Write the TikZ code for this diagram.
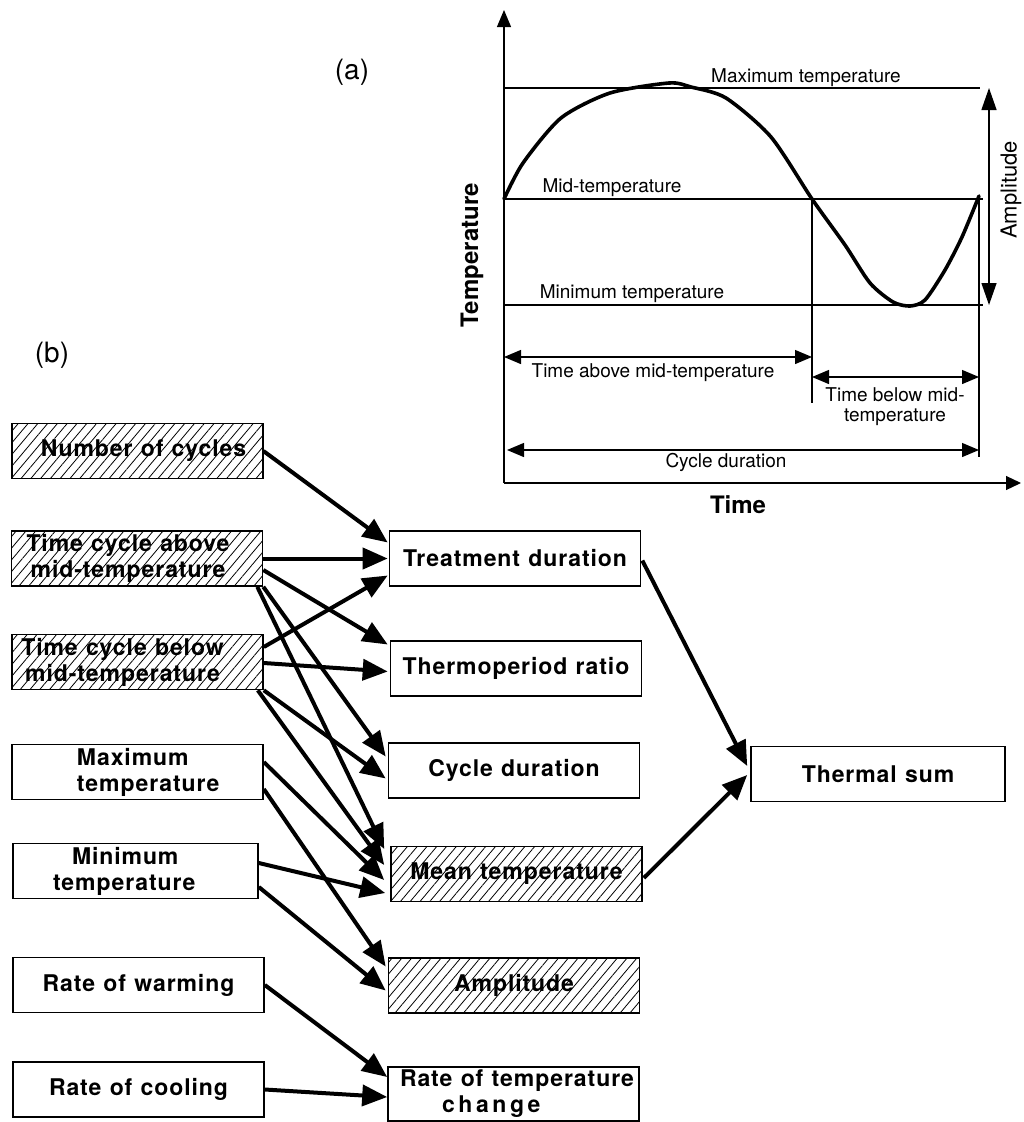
\documentclass[tikz,border=0pt]{standalone}
\usepackage{fontspec}
\setmainfont{TeX Gyre Heros}
\newfontfamily\bxfont{TeX Gyre Heros}[LetterSpace=4.0]
\usetikzlibrary{arrows.meta,patterns.meta,calc}
\newcommand{\ws}{\hspace{0.36em}}
\begin{document}
\begin{tikzpicture}[x=1pt,y=-1pt,
  box/.style={draw,line width=1.6pt,minimum width=251pt,minimum height=55pt,inner sep=0pt,
    font=\bxfont\bfseries\fontsize{23}{26}\selectfont,align=center},
  hatch/.style={box,pattern={Lines[angle=50,distance=7.5pt,line width=0.8pt]}},
  conn/.style={line width=4pt,-{Triangle[length=25pt,width=21pt]}},
  axisline/.style={line width=1.2pt},
  dimarrow/.style={line width=1.3pt,{Triangle[length=17pt,width=14pt]}-{Triangle[length=17pt,width=14pt]}},
  lab/.style={font=\fontsize{19}{21}\selectfont,inner sep=0pt},
  boldlab/.style={font=\bfseries\fontsize{24}{26}\selectfont,inner sep=0pt},
]
\useasboundingbox (0,0) rectangle (1023,1122);
\fill[white] (0,0) rectangle (1023,1122);

% ---------------- (a) graph ----------------
\node[font=\fontsize{28}{30}\selectfont,inner sep=0pt] (la) at (352,72) {(a)};
\draw[axisline,-{Triangle[length=17pt,width=14pt]}] (504,483) -- (504,10);
\draw[axisline,-{Triangle[length=15pt,width=14pt]}] (504,483) -- (1021,483);
\draw[axisline] (504,88) -- (980,88);
\draw[axisline] (504,199) -- (983,199);
\draw[axisline] (504,305) -- (983,305);
\draw[axisline] (812,199) -- (812,403);
\draw[axisline] (979,196) -- (979,457);
\draw[line width=3.6pt,line join=round,line cap=round]
  plot[smooth,tension=0.45] coordinates {(504,199) (523,163) (561,118) (610,93) (669,83) (691,87) (726,98) (771,137) (812,199) (845,245) (870,283) (893,302) (910,306) (925,300) (945,270) (962,237) (979,196)};
\draw[dimarrow] (504,357) -- (812,357);
\draw[dimarrow] (812,377) -- (979,377);
\draw[dimarrow] (507,450) -- (979,450);
\draw[line width=1.3pt,{Triangle[length=22pt,width=15pt]}-{Triangle[length=22pt,width=15pt]}] (989,88) -- (989,305);

\node[lab,anchor=base] (lmax) at (806,82) {Maximum temperature};
\node[lab,anchor=base] (lmid) at (612,192) {Mid-temperature};
\node[lab,anchor=base] (lmin) at (632,298) {Minimum temperature};
\node[lab,anchor=base] (labove) at (653,377) {Time above mid-temperature};
\node[lab,align=center,font=\fontsize{19}{20}\selectfont] (lbelow) at (895,407) {Time below mid-\\temperature};
\node[lab,anchor=base] (lcyc) at (726,467) {Cycle duration};
\node[lab,font=\fontsize{22}{24}\selectfont,rotate=90] (lamp) at (1011,190) {Amplitude};
\node[boldlab,rotate=90] (ylab) at (472,255) {Temperature};
\node[boldlab,anchor=base] (xlab) at (738,513) {Time};

% ---------------- (b) network ----------------
\node[font=\fontsize{28}{30}\selectfont,inner sep=0pt] (lb) at (52,355) {(b)};

\node[hatch] (nc) at (137.5,451) {\hspace*{12pt}Number\ws of\ws cycles};
\node[hatch] (ta) at (137,558.5) {Time\ws cycle\ws above\hspace*{18pt}\\mid-temperature\hspace*{18pt}};
\node[hatch] (tb) at (137.5,662) {Time\ws cycle\ws below\hspace*{30pt}\\mid-temperature\hspace*{30pt}};
\node[box,text width=251pt,align=left] (maxt) at (137.5,772) {\hspace*{65pt}Maximum\\\hspace*{65pt}temperature};
\node[box,minimum width=245pt,text width=245pt,align=left] (mint) at (135.5,871) {\hspace*{59pt}Minimum\\\hspace*{40pt}temperature};
\node[box] (rw) at (138.5,985) {Rate\ws of\ws warming};
\node[box] (rc) at (138.5,1089.5) {Rate\ws of\ws cooling};

\node[box] (td) at (515,558.5) {Treatment\ws duration};
\node[box] (tr) at (516,668.5) {Thermoperiod\ws ratio};
\node[box] (cd) at (514,770.5) {Cycle\ws duration};
\node[hatch] (mt) at (516.5,874) {Mean\ws temperature};
\node[hatch] (am) at (514,985.5) {Amplitude};
\node[box,text width=251pt,align=left,minimum height=54pt] (rt) at (513.5,1094) {\hspace*{12pt}Rate\ws of\ws temperature\\\hspace*{54pt}c\kern3.6pt h\kern3.6pt a\kern3.6pt n\kern3.6pt g\kern3.6pt e};

\node[box,minimum width=254pt] (ts) at (878,774) {Thermal\ws sum};

% connectors
\draw[conn] (nc.east) -- ($(td.west)+(-1,-16)$);
\draw[conn] (ta.east) -- ($(td.west)+(-1,0)$);
\draw[conn] ($(tb.east)+(0,-15)$) -- ($(td.west)+(-1,17)$);
\draw[conn] ($(ta.east)+(0,11.5)$) -- ($(tr.west)+(-2,-24)$);
\draw[conn] ($(tb.east)+(0,1)$) -- ($(tr.west)+(-2,3)$);
\draw[conn] (ta.south east) -- ($(cd.west)+(-2,-14)$);
\draw[conn] (tb.south east) -- ($(cd.west)+(-2,8)$);
\draw[conn] ($(ta.south east)+(-6,0)$) -- ($(mt.west)+(-6,-25)$);
\draw[conn] ($(tb.south east)+(-6,0)$) -- ($(mt.west)+(-6,-9)$);
\draw[conn] ($(maxt.east)+(0,-10)$) -- ($(mt.west)+(-6,6)$);
\draw[conn] ($(maxt.east)+(0,17)$) -- ($(am.west)+(-2,-19)$);
\draw[conn] ($(mint.east)+(0,-8)$) -- ($(mt.west)+(-5,19)$);
\draw[conn] ($(mint.east)+(0,16)$) -- ($(am.west)+(-2,5)$);
\draw[conn] (rw.east) -- ($(rt.west)+(0,-17)$);
\draw[conn] (rc.east) -- ($(rt.west)+(0,3)$);
\draw[conn] ($(td.east)+(1,2)$) -- ($(ts.west)+(-3,-8)$);
\draw[conn] ($(mt.east)+(1,4)$) -- ($(ts.west)+(-3,1)$);
\end{tikzpicture}
\end{document}
